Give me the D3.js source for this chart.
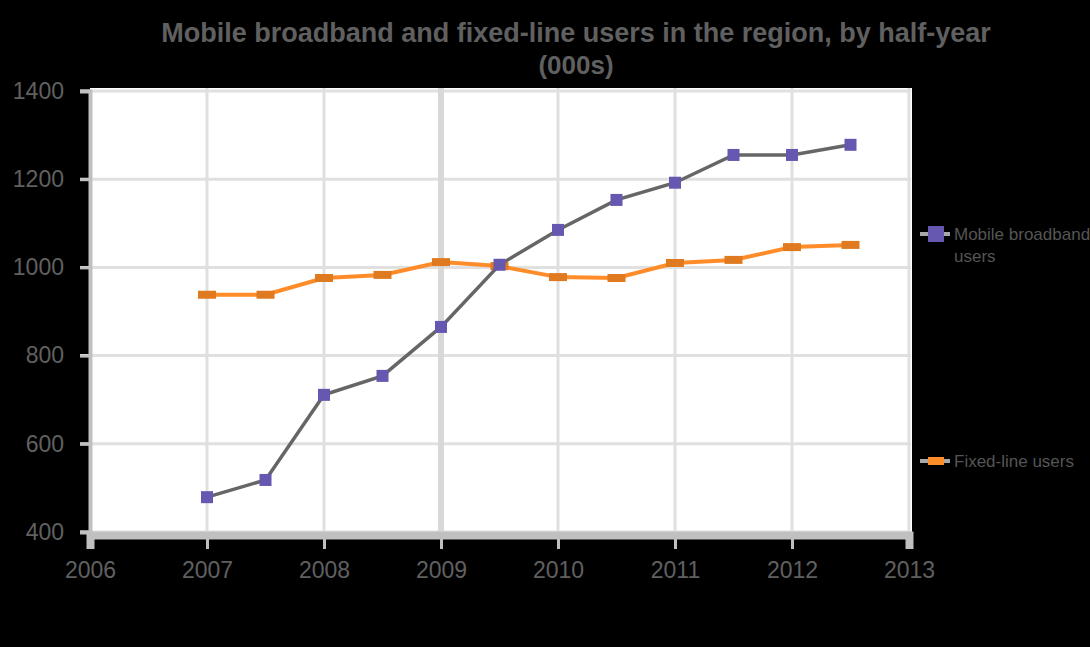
<!DOCTYPE html>
<html>
<head>
<meta charset="utf-8">
<script src="https://cdn.jsdelivr.net/npm/d3@7"></script>
<style>
  html, body { margin: 0; padding: 0; background: #000; }
  svg { display: block; font-family: "Liberation Sans", Arial, sans-serif; }
</style>
</head>
<body>
<div id="chart"></div>
<script>
(function () {

    // data (half-yearly points)
    var periods = [2007, 2007.5, 2008, 2008.5, 2009, 2009.5, 2010, 2010.5, 2011, 2011.5, 2012, 2012.5];
    var mobile_values = [479, 518, 711, 754, 865, 1006, 1085, 1153, 1192, 1255, 1255, 1278];
    var fixed_values = [938, 938, 976, 983, 1012, 1003, 978, 976, 1010, 1017, 1046, 1051];
    var x_ticks = [2006, 2007, 2008, 2009, 2010, 2011, 2012, 2013];
    var y_ticks = [400, 600, 800, 1000, 1200, 1400];
    var series_names = [["Mobile broadband", "users"], ["Fixed-line users"]];
    var title_lines = ["Mobile broadband and fixed-line users in the region, by half-year", "(000s)"];

    var width = 1090, height = 647;
    var left = 90, right = 909, top = 91, bottom = 532;
    var text_colour = "#606060";
    var grid_colour = "#e0e0e0";
    var axis_colour = "#c0c0c0";
    var purple = "#6658b0";
    var orange = "#ff8c28";

    var svg = d3.select("#chart").append("svg")
        .attr("width", width)
        .attr("height", height);

    svg.append("rect")
        .attr("width", width)
        .attr("height", height)
        .attr("fill", "#000");

    var x = d3.scaleLinear().domain([2006, 2013]).range([left, right]);
    var y = d3.scaleLinear().domain([400, 1400]).range([bottom, top]);

    // plot area
    svg.append("rect")
        .attr("x", left)
        .attr("y", top - 3)
        .attr("width", right - left + 3)
        .attr("height", bottom - top + 3)
        .attr("fill", "#fff");

    // gridlines
    svg.append("g")
        .selectAll("line")
        .data(y_ticks)
        .enter()
        .append("line")
        .attr("x1", left - 10)
        .attr("x2", right + 2)
        .attr("y1", function (d) { return y(d); })
        .attr("y2", function (d) { return y(d); })
        .style("stroke", grid_colour)
        .style("stroke-width", 3);

    svg.append("g")
        .selectAll("line")
        .data(x_ticks.slice(1))
        .enter()
        .append("line")
        .attr("x1", function (d) { return x(d); })
        .attr("x2", function (d) { return x(d); })
        .attr("y1", top - 3)
        .attr("y2", bottom)
        .style("stroke", function (d) { return d === 2009 ? "#d8d8d8" : grid_colour; })
        .style("stroke-width", function (d) { return d === 2009 ? 6 : 3; });

    // axes
    var yAxis = svg.append("g")
        .attr("transform", "translate(" + left + ",0)")
        .call(d3.axisLeft(y).tickValues(y_ticks).tickSize(10).tickPadding(16).tickFormat(d3.format("d")));
    yAxis.select(".domain").style("stroke", axis_colour).style("stroke-width", 4);
    yAxis.selectAll(".tick line").style("stroke", axis_colour).style("stroke-width", 3);
    yAxis.selectAll("text")
        .style("fill", text_colour)
        .style("font-size", "23px")
        .attr("x", -26);

    var xAxis = svg.append("g")
        .attr("transform", "translate(0," + (bottom + 3) + ")")
        .call(d3.axisBottom(x).tickValues(x_ticks).tickSize(14).tickPadding(13).tickFormat(d3.format("d")));
    xAxis.select(".domain").style("stroke", axis_colour).style("stroke-width", 8);
    xAxis.selectAll(".tick line").style("stroke", axis_colour).style("stroke-width", 3);
    xAxis.selectAll("text")
        .style("fill", text_colour)
        .style("font-size", "23px");

    // lines
    var mobile = periods.map(function (p, i) { return { x: p, y: mobile_values[i] }; });
    var fixed = periods.map(function (p, i) { return { x: p, y: fixed_values[i] }; });
    var line = d3.line()
        .x(function (d) { return x(d.x); })
        .y(function (d) { return y(d.y); });

    svg.append("path")
        .datum(fixed)
        .attr("d", line)
        .style("fill", "none")
        .style("stroke", orange)
        .style("stroke-width", 4);

    svg.append("g")
        .selectAll("rect")
        .data(fixed)
        .enter()
        .append("rect")
        .attr("x", function (d) { return x(d.x) - 9; })
        .attr("y", function (d) { return y(d.y) - 4; })
        .attr("width", 18)
        .attr("height", 8)
        .style("fill", "#e07a20");

    svg.append("path")
        .datum(mobile)
        .attr("d", line)
        .style("fill", "none")
        .style("stroke", "#666")
        .style("stroke-width", 3.5);

    svg.append("g")
        .selectAll("rect")
        .data(mobile)
        .enter()
        .append("rect")
        .attr("x", function (d) { return x(d.x) - 6; })
        .attr("y", function (d) { return y(d.y) - 6; })
        .attr("width", 12)
        .attr("height", 12)
        .style("fill", purple);

    // title
    var title = svg.append("text")
        .attr("text-anchor", "middle")
        .style("fill", text_colour)
        .style("font-weight", "bold");
    title.append("tspan")
        .attr("x", 576).attr("y", 42)
        .style("font-size", "26px")
        .text(title_lines[0]);
    title.append("tspan")
        .attr("x", 576).attr("y", 74)
        .style("font-size", "26px")
        .text(title_lines[1]);
    // squeeze the first line to the width seen in the picture
    var first = title.select("tspan").node();
    var w = first.getComputedTextLength();
    if (w > 0) d3.select(first).style("font-size", (26 * 830 / w) + "px");

    // legend
    var legend_rows = [
        { y: 234, colour: purple, w: 16, h: 16, names: series_names[0] },
        { y: 461, colour: orange, w: 16, h: 8, names: series_names[1] }
    ];
    var items = svg.append("g")
        .selectAll("g")
        .data(legend_rows)
        .enter()
        .append("g")
        .attr("transform", function (d) { return "translate(0," + d.y + ")"; });
    items.append("line")
        .attr("x1", 920).attr("x2", 950)
        .style("stroke", "#a8a8a8")
        .style("stroke-width", 4);
    items.append("rect")
        .attr("x", function (d) { return 936 - d.w / 2; })
        .attr("y", function (d) { return -d.h / 2; })
        .attr("width", function (d) { return d.w; })
        .attr("height", function (d) { return d.h; })
        .style("fill", function (d) { return d.colour; });
    items.each(function (d) {
        var t = d3.select(this).append("text")
            .style("fill", "#555")
            .style("font-size", "17px");
        d.names.forEach(function (s, i) {
            t.append("tspan")
                .attr("x", 954)
                .attr("y", 6 + i * 22)
                .text(s);
        });
    });
})();
</script>
</body>
</html>
